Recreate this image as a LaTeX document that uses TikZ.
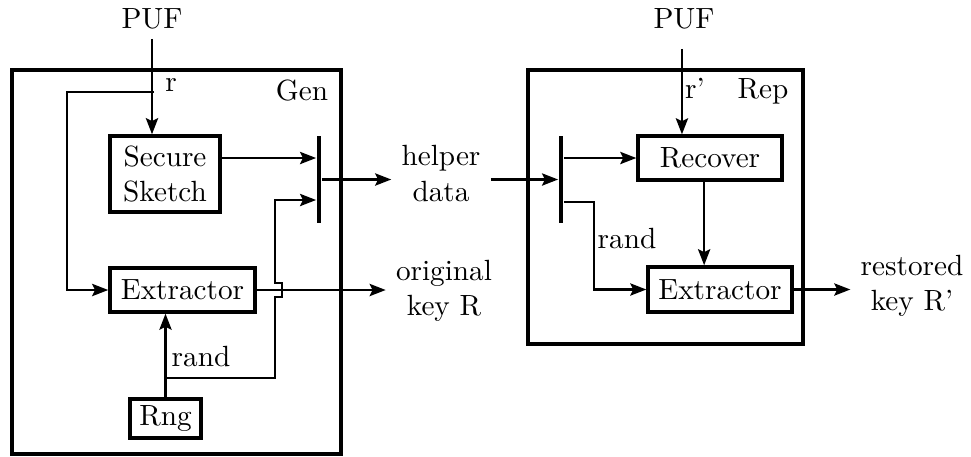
\documentclass[tikz,border=0pt]{standalone}
\usetikzlibrary{arrows.meta}

\begin{document}
\begin{tikzpicture}[x=0.342pt, y=-0.342pt]
    \tikzstyle{box}=[draw, line width=1.2pt, inner sep=0pt, align=center]
    \tikzstyle{bus}=[fill=black, inner sep=0pt, minimum width=1.6pt, minimum height=29.8pt]
    \tikzstyle{frame}=[line width=1.3pt]
    \tikzstyle{wire}=[line width=0.75pt, -{Stealth[length=5.5pt, width=4.2pt, inset=1pt]}]
    \tikzstyle{lbl}=[align=center]

    \useasboundingbox (0,0) rectangle (971,456);

    % generation side
    \draw[frame] (12,70) rectangle (341,454);
    \node[anchor=base] (pufg) at (152,28) {PUF};
    \node[anchor=base] at (171,91) {r};
    \node[anchor=base] at (302,100) {Gen};
    \node[box, minimum width=37.6pt, minimum height=26pt] (sketch) at (165,174) {Secure\\Sketch};
    \node[box, minimum width=49.6pt, minimum height=15pt] (extg) at (182.5,290) {Extractor};
    \node[box, minimum width=24.3pt, minimum height=13.3pt] (rng) at (165.5,418.5) {Rng};
    \node[bus] (busg) at (319,179.5) {};
    \node[anchor=base] at (201,366) {rand};

    \coordinate (rsplit) at (154,92);
    \coordinate (rcorner) at (67,92);
    \coordinate (randsplit) at (165,378);

    \node[lbl] (helper) at (441,173.5) {helper\\data};
    \node[lbl] (orig) at (444,291) {original\\key R};

    \draw[wire] (pufg) -- (pufg |- sketch.north);
    \draw[wire] (rsplit) -- (rcorner) |- (extg.west);
    \draw[wire] (sketch.east |- 0,158) -- (busg.west |- 0,158);
    \draw[wire] (rng) -- (rng |- extg.south);
    \draw[wire] (randsplit) -- (275,378) -- (275,297) -- (282,297)
        -- (282,283) -- (275,283) -- (275,200) -- (busg.west |- 0,200);
    \draw[wire] (extg.east) -- (extg.east -| orig.west);
    \draw[wire] (busg.east) -- (busg.east -| helper.west);

    % reproduction side
    \draw[frame] (528,70) rectangle (803,344);
    \node[anchor=base] (pufr) at (684,28) {PUF};
    \node[anchor=base] at (695,98.5) {r'};
    \node[anchor=base] at (763,98.5) {Rep};
    \node[box, minimum width=49.2pt, minimum height=15pt] (rec) at (710,158) {Recover};
    \node[box, minimum width=49.2pt, minimum height=15.4pt] (extr) at (720,289.5) {Extractor};
    \node[bus] (busr) at (561,179.5) {};
    \node[anchor=base] at (627,248) {rand};
    \node[lbl] (restored) at (912,285.5) {restored\\key R'};

    \draw[wire] ([xshift=-0.7pt, yshift=-3.4pt]pufr.south) -- ([xshift=-0.7pt]pufr.south |- rec.north);
    \draw[wire] (helper.east |- busr) -- (busr.west);
    \draw[wire] (busr.east |- rec.west) -- (rec.west);
    \draw[wire] (busr.east |- 0,202) -- (594,202) |- (extr.west);
    \draw[wire] ([xshift=-2pt]rec.south) -- ([xshift=-2pt]rec.south |- extr.north);
    \draw[wire] (extr.east) -- (extr.east -| restored.west);
\end{tikzpicture}
\end{document}
